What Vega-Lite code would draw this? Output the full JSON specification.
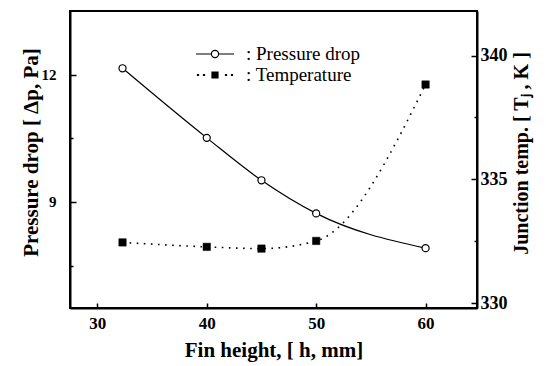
{
  "$schema": "https://vega.github.io/schema/vega-lite/v6.json",
  "width": 407,
  "height": 297,
  "autosize": {"type": "none"},
  "padding": {"left": 70, "top": 11, "right": 69, "bottom": 58},
  "background": "white",
  "config": {
    "view": {"stroke": "black", "strokeWidth": 2},
    "axis": {
      "grid": false,
      "domainColor": "black",
      "domainWidth": 2,
      "tickColor": "black",
      "tickWidth": 1.5,
      "labelFont": "Liberation Serif",
      "labelFontWeight": "bold",
      "labelFontSize": 17,
      "labelColor": "black",
      "titleFont": "Liberation Serif",
      "titleFontWeight": "bold",
      "titleFontSize": 20,
      "titleColor": "black"
    },
    "legend": {"labelFont": "Liberation Serif", "labelFontSize": 19, "labelColor": "black"}
  },
  "datasets": {
    "pressure": [
      {"h": 32.3, "dp": 12.15, "series": "Pressure drop"},
      {"h": 40, "dp": 10.51, "series": "Pressure drop"},
      {"h": 45, "dp": 9.51, "series": "Pressure drop"},
      {"h": 50, "dp": 8.73, "series": "Pressure drop"},
      {"h": 60, "dp": 7.91, "series": "Pressure drop"}
    ],
    "temp": [
      {"h": 32.3, "tj": 332.45, "series": "Temperature"},
      {"h": 40, "tj": 332.27, "series": "Temperature"},
      {"h": 45, "tj": 332.2, "series": "Temperature"},
      {"h": 50, "tj": 332.51, "series": "Temperature"},
      {"h": 60, "tj": 338.83, "series": "Temperature"}
    ]
  },
  "encoding": {
    "x": {
      "field": "h",
      "type": "quantitative",
      "scale": {"domain": [27.5, 64.7], "nice": false, "zero": false},
      "axis": {
        "values": [30, 40, 50, 60],
        "tickSize": -5,
        "labelPadding": 12,
        "title": "Fin height, [ h, mm]",
        "titleFontSize": 21,
        "titlePadding": 8
      }
    }
  },
  "layer": [
    {
      "data": {"name": "pressure"},
      "encoding": {
        "y": {
          "field": "dp",
          "type": "quantitative",
          "scale": {"domain": [6.5, 13.5], "nice": false, "zero": false},
          "axis": {
            "orient": "left",
            "values": [7.5, 9, 10.5, 12],
            "labelExpr": "datum.value % 3 === 0 ? datum.label : ''",
            "tickSize": {"condition": {"test": "datum.value % 3 === 0", "value": -6}, "value": -3},
            "labelPadding": 20,
            "labelFontSize": 15,
            "title": "Pressure drop  [ Δp, Pa]",
            "titleFontSize": 21,
            "titlePadding": 0,
            "titleY": 141
          }
        }
      },
      "layer": [
        {"mark": {"type": "line", "interpolate": "monotone", "color": "black", "strokeWidth": 1.2}},
        {"mark": {"type": "point", "shape": "circle", "filled": true, "fill": "white", "stroke": "black", "strokeWidth": 1.2, "size": 50, "opacity": 1}},
        {
          "transform": [{"filter": "false"}],
          "mark": {"type": "point", "filled": true, "stroke": "black", "strokeWidth": 1.2, "opacity": 1},
          "encoding": {
            "shape": {
              "field": "series",
              "type": "nominal",
              "scale": {
                "domain": ["Pressure drop", "Temperature"],
                "range": [
                  "M-1.9,0H-0.36A0.36,0.36 0 1,1 0.36,0A0.36,0.36 0 1,1 -0.36,0M0.36,0H1.9",
                  "M-1.75,-0.05h0.1v0.1h-0.1zM-1.15,-0.05h0.1v0.1h-0.1zM-0.3,-0.3h0.6v0.6h-0.6zM1.05,-0.05h0.1v0.1h-0.1zM1.65,-0.05h0.1v0.1h-0.1z"
                ]
              },
              "legend": {
                "title": null,
                "orient": "none",
                "legendX": 134,
                "legendY": 32,
                "padding": 0,
                "symbolSize": 400,
                "symbolOpacity": 1,
                "symbolStrokeWidth": 1.2,
                "labelOffset": 20,
                "rowPadding": 0,
                "labelFont": "Liberation Serif",
                "labelFontSize": 19,
                "labelColor": "black",
                "labelExpr": "': ' + datum.label"
              }
            },
            "fill": {
              "field": "series",
              "type": "nominal",
              "scale": {"domain": ["Pressure drop", "Temperature"], "range": ["white", "black"]},
              "legend": {
                "title": null,
                "orient": "none",
                "legendX": 134,
                "legendY": 32,
                "padding": 0,
                "symbolSize": 400,
                "symbolOpacity": 1,
                "symbolStrokeWidth": 1.2,
                "labelOffset": 20,
                "rowPadding": 0,
                "labelFont": "Liberation Serif",
                "labelFontSize": 19,
                "labelColor": "black",
                "labelExpr": "': ' + datum.label"
              }
            },
            "stroke": {
              "field": "series",
              "type": "nominal",
              "scale": {"domain": ["Pressure drop", "Temperature"], "range": ["black", "black"]},
              "legend": {
                "title": null,
                "orient": "none",
                "legendX": 134,
                "legendY": 32,
                "padding": 0,
                "symbolSize": 400,
                "symbolOpacity": 1,
                "symbolStrokeWidth": 1.2,
                "labelOffset": 20,
                "rowPadding": 0,
                "labelFont": "Liberation Serif",
                "labelFontSize": 19,
                "labelColor": "black",
                "labelExpr": "': ' + datum.label"
              }
            }
          }
        }
      ]
    },
    {
      "data": {"name": "temp"},
      "encoding": {
        "y": {
          "field": "tj",
          "type": "quantitative",
          "scale": {"domain": [329.8, 341.8], "nice": false, "zero": false},
          "axis": {
            "orient": "right",
            "values": [330, 332.5, 335, 337.5, 340],
            "labelExpr": "datum.value % 5 === 0 ? datum.label : ''",
            "tickSize": {"condition": {"test": "datum.value % 5 === 0", "value": -6}, "value": -3},
            "labelPadding": 9,
            "labelFontSize": 18,
            "title": "Junction temp. [ Tⱼ , K ]",
            "titleAngle": -90,
            "titleBaseline": "top",
            "titlePadding": 4,
            "titleY": 142
          }
        }
      },
      "layer": [
        {"mark": {"type": "line", "interpolate": "monotone", "color": "black", "strokeWidth": 1.6, "strokeDash": [1.6, 5.5]}},
        {"mark": {"type": "point", "shape": "square", "filled": true, "fill": "black", "stroke": "black", "strokeWidth": 0.5, "size": 55, "opacity": 1}}
      ]
    }
  ],
  "resolve": {"scale": {"y": "independent"}}
}
